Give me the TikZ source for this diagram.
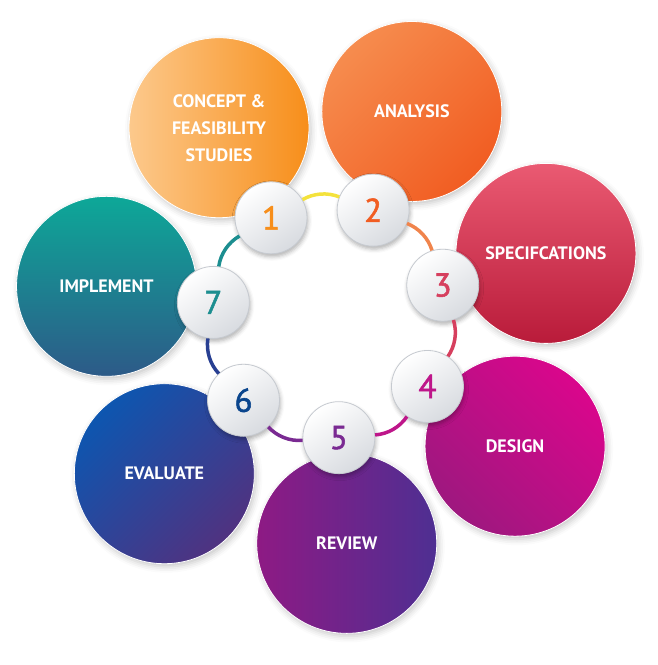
\documentclass[tikz,border=0pt]{standalone}
\usepackage{fontspec}
\setmainfont{PT Sans}
\newfontfamily\numfont{PT Sans}[FakeBold=1.6]
\usepackage{xcolor}
\usepackage{tikz}
\usetikzlibrary{shadows.blur}

% stage colours
\definecolor{conceptL}{HTML}{FCC98C}
\definecolor{conceptR}{HTML}{F78E1A}
\definecolor{analysisT}{HTML}{F68C4E}
\definecolor{analysisB}{HTML}{F15D22}
\definecolor{specT}{HTML}{EA5A72}
\definecolor{specB}{HTML}{B91B3A}
\definecolor{designT}{HTML}{DA068C}
\definecolor{designB}{HTML}{9E187F}
\definecolor{reviewL}{HTML}{8E1A84}
\definecolor{reviewR}{HTML}{4E2F92}
\definecolor{evalT}{HTML}{0D56B0}
\definecolor{evalB}{HTML}{503280}
\definecolor{implT}{HTML}{0DA898}
\definecolor{implB}{HTML}{2D5A88}
% ring and numbers
\definecolor{ringA}{HTML}{F4E23C}
\definecolor{ringB}{HTML}{F0844C}
\definecolor{ringC}{HTML}{D63F5E}
\definecolor{ringD}{HTML}{BE168A}
\definecolor{ringE}{HTML}{7A2A92}
\definecolor{ringF}{HTML}{283F92}
\definecolor{ringG}{HTML}{1C8E90}
\definecolor{numgray}{HTML}{D8DBE0}
\definecolor{rimgray}{HTML}{C6CAD0}

\begin{document}
\begin{tikzpicture}[x=1pt, y=1pt,
    bigdisc/.style={circle, minimum size=180pt, inner sep=0pt, draw=white, line width=0.8pt,
        align=center, text=white, font=\bfseries\fontsize{18}{27}\selectfont,
        blur shadow={shadow xshift=2pt, shadow yshift=-3pt, shadow blur radius=6pt, shadow opacity=22}},
    numdisc/.style={circle, minimum size=72pt, inner sep=0pt, draw=rimgray, line width=0.8pt,
        top color=white, bottom color=numgray, shading angle=35,
        font=\numfont\fontsize{33}{33}\selectfont,
        blur shadow={shadow xshift=1pt, shadow yshift=-3pt, shadow blur radius=4pt, shadow opacity=30}},
    ringline/.style={line width=3.5pt, bend left=25.7, looseness=0.9}
]
    \useasboundingbox (-330,-345) rectangle (327,320);

    % outer stages
    \node[bigdisc, left color=conceptL, right color=conceptR] (concept) at (120:222) {CONCEPT \&\\FEASIBILITY\\STUDIES};
    \node[bigdisc, top color=analysisT, bottom color=analysisB, shading angle=45] (analysis) at (68.57:224) {ANALYSIS};
    \node[bigdisc, top color=specT, bottom color=specB] (spec) at (17.14:226) {SPECIFCATIONS};
    \node[bigdisc, top color=designT, bottom color=designB, shading angle=-45] (design) at (-34.29:224) {DESIGN};
    \node[bigdisc, left color=reviewL, right color=reviewR] (review) at (-85.71:224) {REVIEW};
    \node[bigdisc, top color=evalT, bottom color=evalB, shading angle=45] (evaluate) at (222.86:226) {EVALUATE};
    \node[bigdisc, top color=implT, bottom color=implB] (implement) at (171.43:226) {IMPLEMENT};

    % numbered ring
    \node[numdisc, text=conceptR] (n1) at (120:118) {1};
    \node[numdisc, text=analysisB] (n2) at (68.57:118) {2};
    \node[numdisc, text=ringC] (n3) at (17.14:118) {3};
    \node[numdisc, text=ringD] (n4) at (-34.29:118) {4};
    \node[numdisc, text=ringE] (n5) at (-85.71:118) {5};
    \node[numdisc, text=evalT!80!black] (n6) at (222.86:118) {6};
    \node[numdisc, text=ringG] (n7) at (171.43:118) {7};

    \draw[ringline, ringA] (n1) to (n2);
    \draw[ringline, ringB] (n2) to (n3);
    \draw[ringline, ringC] (n3) to (n4);
    \draw[ringline, ringD] (n4) to (n5);
    \draw[ringline, ringE] (n5) to (n6);
    \draw[ringline, ringF] (n6) to (n7);
    \draw[ringline, ringG] (n7) to (n1);
\end{tikzpicture}
\end{document}
